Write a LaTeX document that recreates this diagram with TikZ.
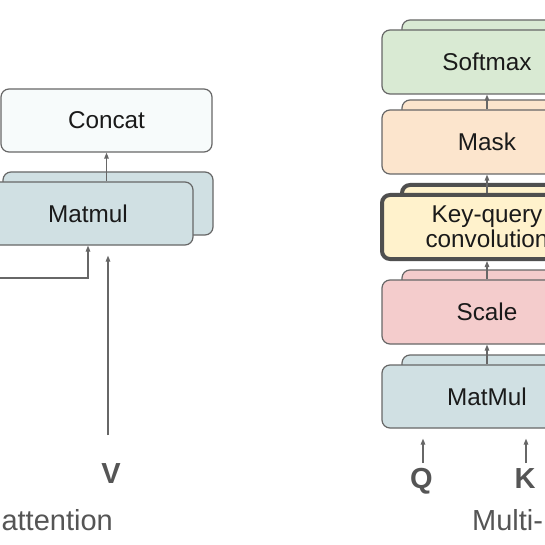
\documentclass[tikz,border=0pt]{standalone}
\usepackage{fontspec}
\setmainfont{Liberation Sans}
\usetikzlibrary{arrows.meta}
\definecolor{edge}{HTML}{676767}
\definecolor{txt}{HTML}{1A1A1A}
\definecolor{lab}{HTML}{555555}
\definecolor{cconcat}{HTML}{F7FBFB}
\definecolor{cblue}{HTML}{D0E0E3}
\definecolor{cgreen}{HTML}{D9EAD3}
\definecolor{corange}{HTML}{FCE5CD}
\definecolor{cyellow}{HTML}{FFF2CC}
\definecolor{cred}{HTML}{F4CCCC}
\definecolor{thickedge}{HTML}{4F4F4F}
\tikzset{
  box/.style={draw=edge, line width=1.2pt, rounded corners=8pt, minimum width=210pt, minimum height=64pt, inner sep=0pt, text=txt, font=\fontsize{24.3}{24.5}\selectfont, align=center},
  thickbox/.style={box, draw=thickedge, line width=4pt},
  arr/.style={draw=edge, line width=1.2pt, -{Triangle[length=6pt,width=4.5pt]}},
  inlab/.style={text=lab, font=\fontsize{29}{30}\selectfont\bfseries, inner sep=0pt},
  caption/.style={text=lab, font=\fontsize{29}{30}\selectfont, inner sep=0pt}
}
\begin{document}
\begin{tikzpicture}[x=1pt,y=-1pt]
\useasboundingbox (0,0) rectangle (545,545);
\clip (0,0) rectangle (545,545);
\fill[white] (0,0) rectangle (545,545);
% left column
\node[box, fill=cconcat, minimum width=211pt, minimum height=63pt] (conc) at (106.5,120.5) {Concat};
\node[box, fill=cblue, minimum height=63pt] (mmLb) at (108,203.5) {};
\node[box, fill=cblue, minimum height=63pt] (mmL) at (88,213.5) {Matmul};
\draw[arr] (mmL.north -| conc.south) -- (conc.south);
\coordinate (qin) at (-10,278);
\draw[arr] (qin) -| (mmL.south);
\coordinate (vlo) at (108,435);
\draw[arr, shorten >=10pt] (vlo) -- (mmL.south -| vlo);
\node[inlab, anchor=base] (V) at (111,483) {V};
\node[caption, anchor=base east] (capL) at (113,530) {attention};
% right column
\node[box, fill=cgreen] (smb) at (507,52) {};
\node[box, fill=cgreen] (sm) at (487,62) {Softmax};
\node[box, fill=corange] (mkb) at (507,132) {};
\node[box, fill=corange] (mk) at (487,142) {Mask};
\node[thickbox, fill=cyellow] (kqb) at (507,217) {};
\node[thickbox, fill=cyellow] (kq) at (487,227) {Key-query\\convolution};
\node[box, fill=cred] (scb) at (507,302) {};
\node[box, fill=cred] (sc) at (487,312) {Scale};
\node[box, fill=cblue, minimum height=63pt] (mmRb) at (507,386.5) {};
\node[box, fill=cblue, minimum height=63pt] (mmR) at (487,396.5) {MatMul};
\draw[arr] (mk.north) -- (sm.south);
\draw[arr] (kq.north) -- (mk.south);
\draw[arr] (sc.north) -- (kq.south);
\draw[arr] (mmR.north) -- (sc.south);
\coordinate (qlo) at (423,463);
\coordinate (klo) at (526,463);
\draw[arr, shorten >=10pt] (qlo) -- (mmR.south -| qlo);
\draw[arr, shorten >=10pt] (klo) -- (mmR.south -| klo);
\node[inlab, anchor=base] (Q) at (421.5,488) {Q};
\node[inlab, anchor=base] (K) at (525,488) {K};
\node[caption, anchor=base west] (capR) at (472,530) {Multi-};
\end{tikzpicture}
\end{document}
